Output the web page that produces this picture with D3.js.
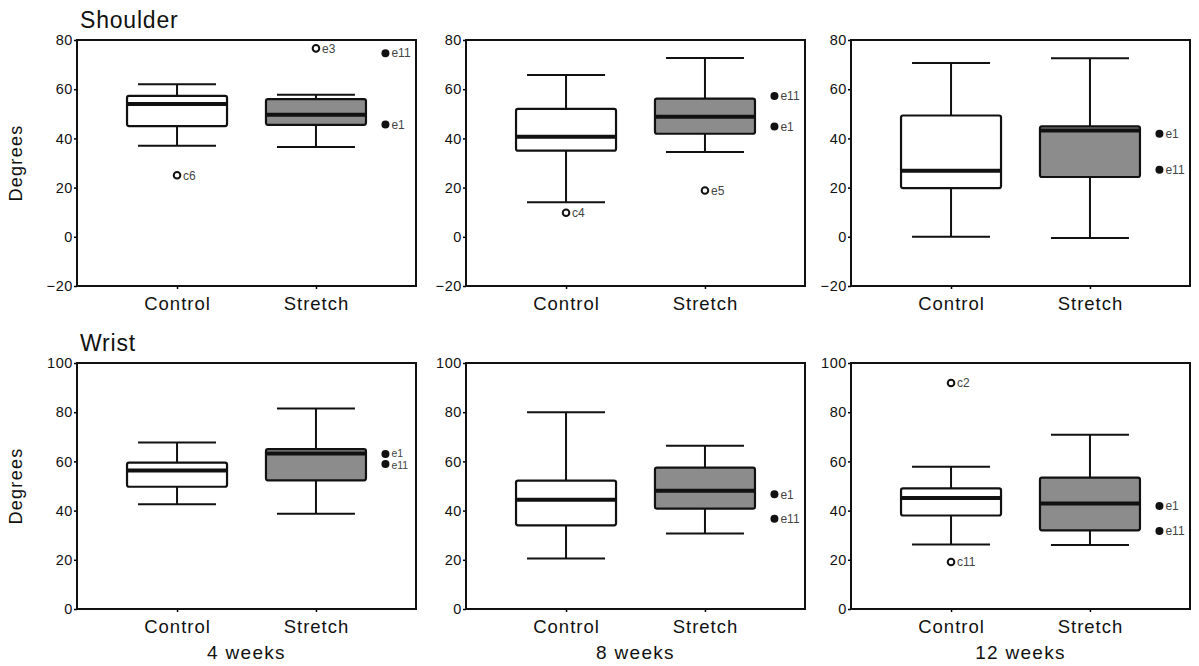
<!DOCTYPE html>
<html>
<head>
<meta charset="utf-8">
<script src="https://cdn.jsdelivr.net/npm/d3@7"></script>
<style>
  body { margin: 0; background: #fff; }
  text { font-family: "Liberation Sans", Arial, sans-serif; fill: #111; }
</style>
</head>
<body>
<div id="my_dataviz"></div>
<script>
// labels
var regions = ["Shoulder", "Wrist"];
var weeks = ["4 weeks", "8 weeks", "12 weeks"];
var groups = ["Control", "Stretch"];
var yDomains = [[-20, 80], [0, 100]];
var yTicks = [[-20, 0, 20, 40, 60, 80], [0, 20, 40, 60, 80, 100]];

// box stats per week: [low whisker, Q1, median, Q3, high whisker]
var shoulderControl = [[37, 45, 54, 57.3, 62], [14, 35, 40.7, 52, 65.8], [0, 19.8, 26.9, 49.3, 70.7]];
var shoulderStretch = [[36.5, 45.5, 49.6, 56, 57.7], [34.5, 41.9, 48.8, 56.2, 72.7], [-0.5, 24.3, 43.2, 44.9, 72.6]];
var wristControl = [[42.6, 49.7, 56.3, 59.5, 67.7], [20.5, 34, 44.4, 52.2, 80], [26.2, 38, 45.1, 49, 57.8]];
var wristStretch = [[38.7, 52.3, 63.2, 65, 81.5], [30.7, 40.8, 48.1, 57.5, 66.4], [26, 32, 42.9, 53.4, 70.8]];

// outliers (open circles)
var shoulderOutliers = [
  {week: "4 weeks", group: "Control", value: 25, label: "c6"},
  {week: "4 weeks", group: "Stretch", value: 76.6, label: "e3"},
  {week: "8 weeks", group: "Control", value: 9.8, label: "c4"},
  {week: "8 weeks", group: "Stretch", value: 18.8, label: "e5"}
];
var wristOutliers = [
  {week: "12 weeks", group: "Control", value: 91.9, label: "c2"},
  {week: "12 weeks", group: "Control", value: 19.1, label: "c11"}
];

// marked cases e1 and e11 (filled circles), one value per week
var shoulderE1 = [45.7, 44.8, 41.9];
var shoulderE11 = [74.6, 57.2, 27.3];
var wristE1 = [63, 46.6, 41.9];
var wristE11 = [58.9, 36.7, 31.7];

var stats = {
  Shoulder: {Control: shoulderControl, Stretch: shoulderStretch, outliers: shoulderOutliers, e1: shoulderE1, e11: shoulderE11},
  Wrist: {Control: wristControl, Stretch: wristStretch, outliers: wristOutliers, e1: wristE1, e11: wristE11}
};

// layout
var colLeft = [77, 466, 851],
    rowTop = [40, 363],
    width = 339,
    height = 246,
    boxW = 100,
    capW = 78;

var svg = d3.select("#my_dataviz")
  .append("svg")
    .attr("width", 1199)
    .attr("height", 666);

regions.forEach(function(region, r) {
  var s = stats[region];

  weeks.forEach(function(week, c) {
    var g = svg.append("g")
      .attr("transform", "translate(" + colLeft[c] + "," + rowTop[r] + ")");

    var y = d3.scaleLinear()
      .domain(yDomains[r])
      .range([height, 0]);

    var x = d3.scalePoint()
      .domain(groups)
      .range([0, width])
      .padding(0.72);

    // Y axis
    var ya = g.append("g")
      .call(d3.axisLeft(y).tickValues(yTicks[r]).tickSize(3).tickPadding(1));
    ya.select(".domain").remove();
    ya.selectAll("text").style("font-size", "14.5px").style("letter-spacing", "0.6px");
    ya.selectAll("line").attr("stroke-width", 1.5);

    // X axis
    var xa = g.append("g")
      .attr("transform", "translate(0," + height + ")")
      .call(d3.axisBottom(x).tickSize(3).tickPadding(8));
    xa.select(".domain").remove();
    xa.selectAll("text").style("font-size", "18.5px").style("letter-spacing", "1px");
    xa.selectAll("line").attr("stroke-width", 1.5);

    // frame
    g.append("rect")
      .attr("x", 0).attr("y", 0)
      .attr("width", width).attr("height", height)
      .attr("fill", "none")
      .attr("stroke", "#111")
      .attr("stroke-width", 2);

    // boxes
    groups.forEach(function(grp, k) {
      var d = s[grp][c];
      var cx = x(grp);
      var b = g.append("g");
      b.append("line")
        .attr("x1", cx).attr("x2", cx)
        .attr("y1", y(d[0])).attr("y2", y(d[4]))
        .attr("stroke", "#111").attr("stroke-width", 2);
      [d[0], d[4]].forEach(function(v) {
        b.append("line")
          .attr("x1", cx - capW / 2).attr("x2", cx + capW / 2)
          .attr("y1", y(v)).attr("y2", y(v))
          .attr("stroke", "#111").attr("stroke-width", 2);
      });
      b.append("rect")
        .attr("x", cx - boxW / 2)
        .attr("y", y(d[3]))
        .attr("width", boxW)
        .attr("height", y(d[1]) - y(d[3]))
        .attr("rx", 2)
        .attr("fill", k == 0 ? "#fff" : "#8c8c8c")
        .attr("stroke", "#111")
        .attr("stroke-width", 2.2);
      b.append("line")
        .attr("x1", cx - boxW / 2).attr("x2", cx + boxW / 2)
        .attr("y1", y(d[2])).attr("y2", y(d[2]))
        .attr("stroke", "#111").attr("stroke-width", 4);
    });

    // open outliers
    s.outliers.filter(function(o) { return o.week == week; }).forEach(function(o) {
      var ox = x(o.group);
      g.append("circle")
        .attr("cx", ox).attr("cy", y(o.value)).attr("r", 3.3)
        .attr("fill", "#fff").attr("stroke", "#111").attr("stroke-width", 2);
      g.append("text")
        .attr("x", ox + 6).attr("y", y(o.value))
        .attr("dy", "0.35em")
        .style("font-size", "12px")
        .style("fill", "#444")
        .text(o.label);
    });

    // marked cases, labels pushed apart when the dots sit close together
    var mx = x("Stretch") + x.step() / 2;
    var y1 = y(s.e1[c]), y11 = y(s.e11[c]);
    var gap = Math.abs(y1 - y11), push = gap < 12 ? (12 - gap) / 2 : 0;
    var sign = y1 < y11 ? -1 : 1;
    [["e1", y1, sign * push], ["e11", y11, -sign * push]].forEach(function(p) {
      g.append("circle")
        .attr("cx", mx).attr("cy", p[1]).attr("r", 4)
        .attr("fill", "#111");
      g.append("text")
        .attr("x", mx + 6).attr("y", p[1] + p[2])
        .attr("dy", "0.35em")
        .style("font-size", gap < 12 ? "10.5px" : "12px")
        .style("fill", "#444")
        .text(p[0]);
    });

    // week labels under bottom row
    if (r == 1) {
      g.append("text")
        .attr("x", width / 2)
        .attr("y", height + 50)
        .attr("text-anchor", "middle")
        .style("font-size", "19px")
        .style("letter-spacing", "1.3px")
        .text(week);
    }

    // region title and y label on first column
    if (c == 0) {
      g.append("text")
        .attr("x", 3)
        .attr("y", -12)
        .style("font-size", "23px")
        .style("letter-spacing", "0.8px")
        .text(region);
      g.append("text")
        .attr("transform", "translate(-55," + height / 2 + ") rotate(-90)")
        .attr("text-anchor", "middle")
        .style("font-size", "18px")
        .style("letter-spacing", "1.3px")
        .text("Degrees");
    }
  });
});
</script>
</body>
</html>
